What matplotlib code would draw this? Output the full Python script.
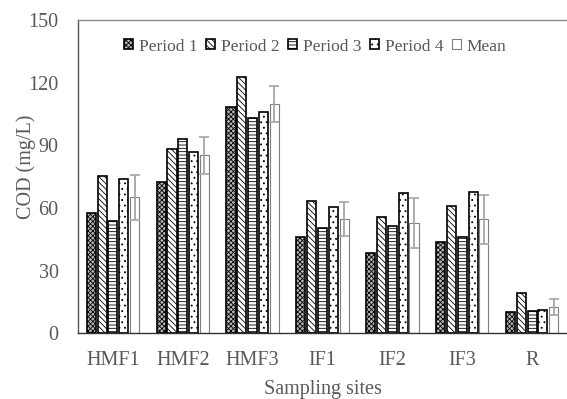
import matplotlib
matplotlib.use("Agg")
import matplotlib.pyplot as plt
import numpy as np

sites = ["HMF1", "HMF2", "HMF3", "IF1", "IF2", "IF3", "R"]
period1 = [57.5, 72.4, 108.4, 45.9, 38.5, 43.6, 10.2]
period2 = [75.2, 88.3, 122.8, 63.4, 55.4, 60.9, 19.3]
period3 = [53.8, 93.1, 102.9, 50.5, 51.3, 46.2, 10.5]
period4 = [73.6, 86.7, 105.7, 60.4, 67.0, 67.7, 10.9]
mean_vals = [65.0, 85.1, 109.7, 54.6, 52.6, 54.6, 12.6]
mean_err = [10.6, 9.0, 8.7, 8.3, 12.0, 11.7, 4.0]
series_names = ["Period 1", "Period 2", "Period 3", "Period 4", "Mean"]
yticks = [0, 30, 60, 90, 120, 150]

plt.rcParams['font.family'] = ['Liberation Serif', 'DejaVu Serif']
plt.rcParams['hatch.linewidth'] = 0.6
textc = '#595959'

fig = plt.figure(figsize=(5.67, 3.99), dpi=100)
ax = fig.add_axes([0.1376, 0.165, 0.8624, 0.785])

x = np.arange(len(sites))
pitch = 0.155
w = 0.13
hatches = ['xxxxxxx', '\\\\\\\\\\\\', '-----', '...']
faces = ['#b8b8b8', 'white', 'white', 'white']
for i, vals in enumerate([period1, period2, period3, period4]):
    ax.bar(x + (i - 2) * pitch, vals, w, facecolor=faces[i], edgecolor='black',
           linewidth=1.2, hatch=hatches[i], label=series_names[i], zorder=2)
ax.bar(x + 2 * pitch, mean_vals, w, facecolor='white', edgecolor='#7f7f7f',
       linewidth=0.8, label=series_names[4], zorder=2)
ax.errorbar(x + 2 * pitch, mean_vals, yerr=mean_err, fmt='none', ecolor='#a6a6a6',
            elinewidth=1.3, capsize=3.6, capthick=1.2, zorder=3)

ax.set_xlim(-0.5, len(sites) - 0.5)
ax.set_ylim(0, 150)
ax.set_yticks(yticks)
ax.set_xticks(x)
ax.set_xticklabels(sites)
ax.tick_params(axis='both', length=0, labelsize=14.5, colors=textc)
ax.tick_params(axis='x', pad=13)
ax.tick_params(axis='y', pad=14)
ax.set_xlabel("Sampling sites", fontsize=14.5, color=textc, labelpad=7)
ax.set_ylabel("COD (mg/L)", fontsize=14.5, color=textc)
ax.yaxis.set_label_coords(-0.086, 0.53)

ax.spines['right'].set_visible(False)
ax.spines['top'].set_color('#888888')
ax.spines['left'].set_color('#555555')
ax.spines['bottom'].set_color('#333333')
for s in ax.spines.values():
    s.set_linewidth(1.0)

leg = ax.legend(loc='center', bbox_to_anchor=(0.485, 0.915), ncol=5, frameon=False,
                fontsize=12.5, handlelength=0.5, handleheight=0.5,
                handletextpad=0.35, columnspacing=0.5, borderaxespad=0)
for t in leg.get_texts():
    t.set_color(textc)

fig.savefig("out.png", dpi=100)
